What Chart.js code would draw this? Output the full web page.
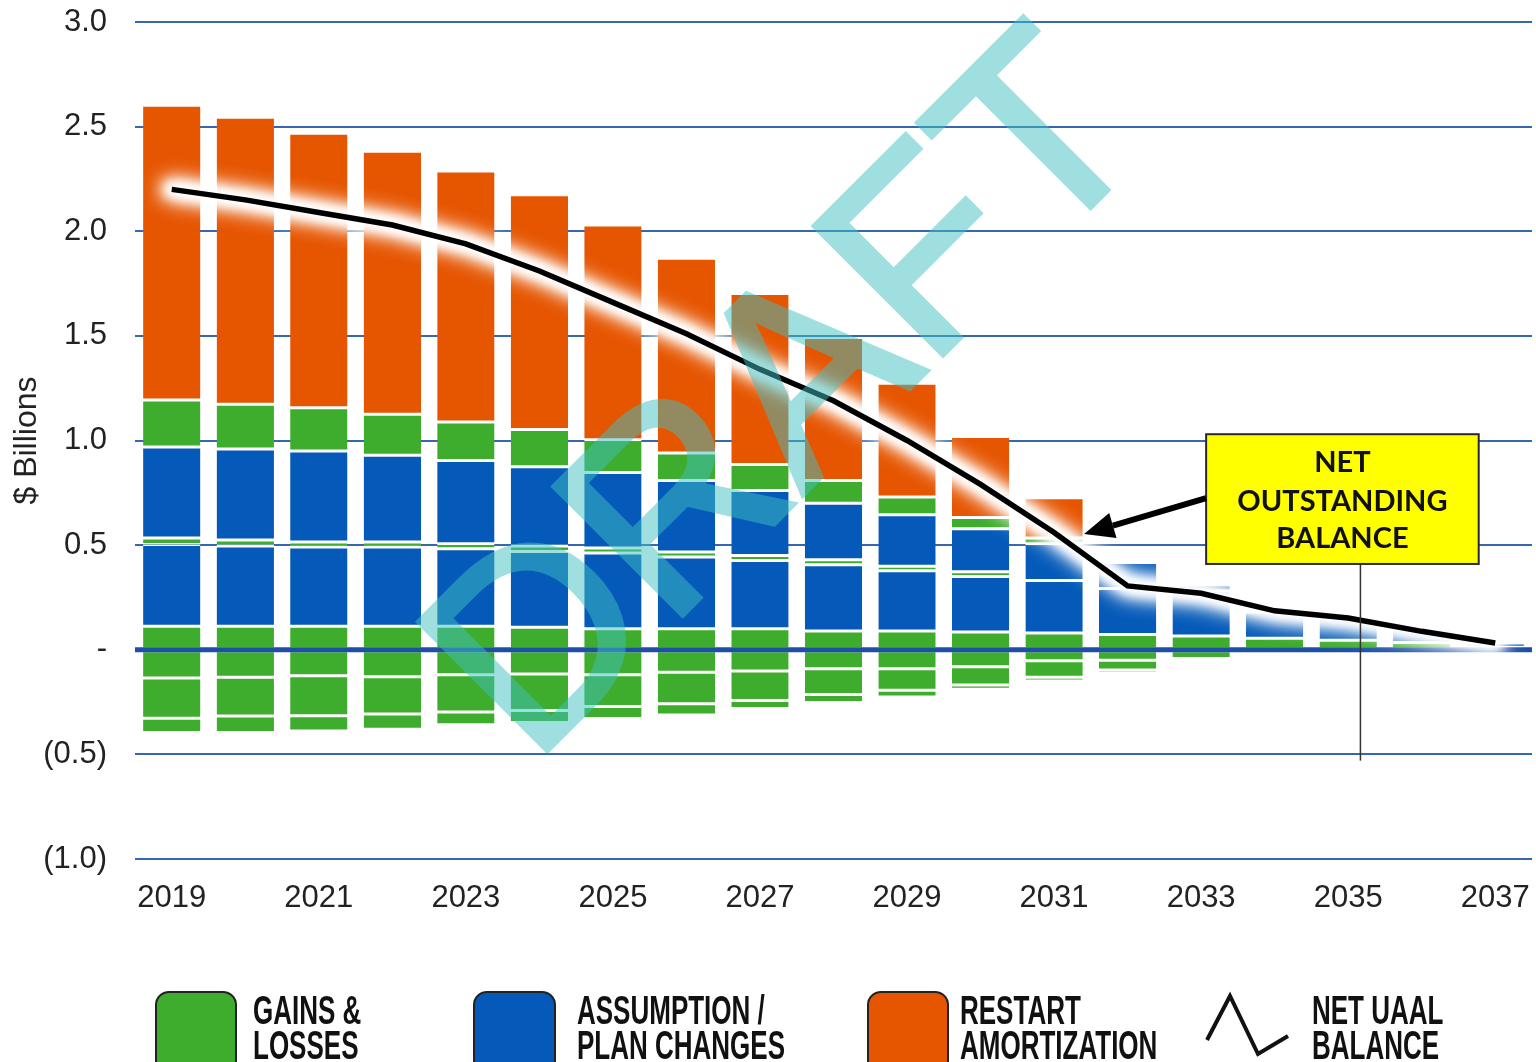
<!DOCTYPE html>
<html>
<head>
<meta charset="utf-8">
<script src="https://cdn.jsdelivr.net/npm/chart.js@4.4.1/dist/chart.umd.min.js"></script>
<style>
  body { margin: 0; background: #fff; overflow: hidden; }
  #wrap { position: relative; width: 1536px; height: 1062px; overflow: hidden; }
  .key { position: absolute; top: 991px; width: 82px; height: 84px; border: 2px solid #222; border-radius: 14px; box-sizing: border-box; }
  .keytext { position: absolute; top: 993px; font: bold 40px "Liberation Sans", Arial, sans-serif; line-height: 35px;
             color: #111; transform: scaleX(0.65); transform-origin: left top; white-space: nowrap; }
</style>
</head>
<body>
<div id="wrap">
  <canvas id="uaalChart" width="1536" height="1062"></canvas>

  <div class="key" style="left:155px; background:#3eac2c;"></div>
  <div class="keytext" style="left:253px;">GAINS &amp;<br>LOSSES</div>

  <div class="key" style="left:473px; width:83px; background:#055ab9;"></div>
  <div class="keytext" style="left:577px;">ASSUMPTION /<br>PLAN CHANGES</div>

  <div class="key" style="left:867px; background:#e65500;"></div>
  <div class="keytext" style="left:960px;">RESTART<br>AMORTIZATION</div>

  <svg style="position:absolute; left:1200px; top:990px;" width="100" height="72">
    <polyline points="7,50 30,6 58,64 88,46" fill="none" stroke="#111" stroke-width="4" stroke-linejoin="miter"/>
  </svg>
  <div class="keytext" style="left:1312px;">NET UAAL<br>BALANCE</div>
</div>

<script>
// values in $ billions
const years = ['2019', '2020', '2021', '2022', '2023', '2024', '2025', '2026', '2027', '2028',
               '2029', '2030', '2031', '2032', '2033', '2034', '2035', '2036', '2037'];

// positive layers, bottom to top
const gainsLow       = [0.112, 0.112, 0.112, 0.112, 0.112, 0.108, 0.100, 0.100, 0.100, 0.090, 0.090, 0.085, 0.080, 0.073, 0.066, 0.055, 0.045, 0.035, 0.012];
const assumptionLow  = [0.391, 0.384, 0.379, 0.379, 0.371, 0.362, 0.362, 0.343, 0.327, 0.316, 0.287, 0.265, 0.251, 0.220, 0.215, 0.125, 0.115, 0.065, 0.020];
const gainsMid       = [0.031, 0.028, 0.024, 0.024, 0.024, 0.026, 0.024, 0.024, 0.023, 0.024, 0.022, 0.023, 0, 0, 0, 0, 0, 0, 0];
const assumptionHigh = [0.435, 0.435, 0.435, 0.415, 0.397, 0.379, 0.361, 0.342, 0.311, 0.270, 0.246, 0.205, 0.175, 0.124, 0.030, 0, 0, 0, 0];
const gainsHigh      = [0.225, 0.214, 0.207, 0.195, 0.185, 0.177, 0.156, 0.131, 0.124, 0.109, 0.085, 0.054, 0.028, 0, 0, 0, 0, 0, 0];
const restart        = [1.408, 1.372, 1.311, 1.257, 1.199, 1.122, 1.027, 0.931, 0.817, 0.683, 0.544, 0.387, 0.193, 0, 0, 0, 0, 0, 0];

// negative layers, top to bottom
const lossesA = [-0.135, -0.131, -0.124, -0.129, -0.119, -0.116, -0.119, -0.107, -0.101, -0.091, -0.091, -0.081, -0.052, -0.050, -0.042, 0, 0, 0, 0];
const lossesB = [-0.192, -0.186, -0.191, -0.178, -0.179, -0.174, -0.152, -0.151, -0.141, -0.123, -0.103, -0.088, -0.079, -0.047, -0.014, 0, 0, 0, 0];
const lossesC = [-0.069, -0.079, -0.073, -0.073, -0.061, -0.058, -0.058, -0.054, -0.039, -0.038, -0.032, -0.020, -0.018, -0.015, 0, 0, 0, 0, 0];

const netBalance = [2.20, 2.15, 2.09, 2.03, 1.94, 1.81, 1.66, 1.51, 1.34, 1.19, 1.00, 0.79, 0.56, 0.305, 0.27, 0.186, 0.152, 0.088, 0.032];

const GREEN = '#3eac2c';
const BLUE = '#055ab9';
const ORANGE = '#e65500';

function layer(label, data, color) {
  return {
    type: 'bar',
    label: label,
    data: data,
    backgroundColor: color,
    borderColor: '#ffffff',
    borderWidth: { top: 1.5, bottom: 1.5, left: 0, right: 0 },
    borderSkipped: false,
    stack: 'uaal',
    order: 1
  };
}

// zero line + soft white glow drawn just under the balance line
const glowPlugin = {
  id: 'glow',
  beforeDatasetDraw(chart, args) {
    if (chart.data.datasets[args.index].type !== 'line') return;
    const ctx = chart.ctx;
    const area = chart.chartArea;
    const y0 = chart.scales.y.getPixelForValue(0);
    ctx.save();
    ctx.strokeStyle = '#1d4fa6';
    ctx.lineWidth = 5;
    ctx.beginPath();
    ctx.moveTo(area.left, y0);
    ctx.lineTo(area.right, y0);
    ctx.stroke();

    // stroke far off-canvas, keep only the blurred shadow
    const pts = args.meta.data;
    const shift = 5000;
    ctx.lineJoin = 'round';
    ctx.lineCap = 'round';
    ctx.strokeStyle = '#fff';
    ctx.shadowColor = '#fff';
    ctx.shadowOffsetX = shift * chart.currentDevicePixelRatio;
    [[24, 20], [16, 13], [10, 8]].forEach(p => {
      ctx.lineWidth = p[0];
      ctx.shadowBlur = p[1];
      ctx.beginPath();
      pts.forEach((pt, i) => i ? ctx.lineTo(pt.x - shift, pt.y) : ctx.moveTo(pt.x - shift, pt.y));
      ctx.stroke();
    });
    ctx.restore();
  }
};

// callout box, arrow and DRAFT stamp
const notePlugin = {
  id: 'note',
  afterDraw(chart) {
    const ctx = chart.ctx;
    const x = chart.scales.x, y = chart.scales.y;
    const left = x.getPixelForValue(14) + 5, right = x.getPixelForValue(17) + 57;
    const top = y.getPixelForValue(1.03), bottom = y.getPixelForValue(0.41);
    const cx = (left + right) / 2;

    ctx.save();
    // thin pointer line
    ctx.strokeStyle = '#333';
    ctx.lineWidth = 1.5;
    ctx.beginPath();
    ctx.moveTo(cx + 18, bottom - 16);
    ctx.lineTo(cx + 18, y.getPixelForValue(-0.53));
    ctx.stroke();

    ctx.fillStyle = '#ffff00';
    ctx.fillRect(left, top, right - left, bottom - top);
    ctx.strokeStyle = '#2a2a2a';
    ctx.lineWidth = 2;
    ctx.strokeRect(left, top, right - left, bottom - top);

    ctx.fillStyle = '#111';
    ctx.font = 'bold 29px Lato, "Open Sans", sans-serif';
    ctx.textAlign = 'center';
    ctx.textBaseline = 'middle';
    ctx.fillText('NET', cx, top + 28);
    ctx.fillText('OUTSTANDING', cx, top + 67);
    ctx.fillText('BALANCE', cx, top + 104);

    // arrow towards the line
    const tx = left, ty = top + 64;
    const hx = x.getPixelForValue(12) + 30, hy = y.getPixelForValue(0.553);
    const dx = hx - tx, dy = hy - ty, len = Math.hypot(dx, dy);
    const ux = dx / len, uy = dy / len;
    const bx = hx - ux * 30, by = hy - uy * 30;
    ctx.strokeStyle = '#000';
    ctx.lineWidth = 6;
    ctx.beginPath();
    ctx.moveTo(tx, ty);
    ctx.lineTo(bx, by);
    ctx.stroke();
    ctx.fillStyle = '#000';
    ctx.beginPath();
    ctx.moveTo(hx, hy);
    ctx.lineTo(bx - uy * 13, by + ux * 13);
    ctx.lineTo(bx + uy * 13, by - ux * 13);
    ctx.closePath();
    ctx.fill();
    ctx.restore();

    // watermark: opaque on a layer, then blended at half strength
    const layerCanvas = document.createElement('canvas');
    layerCanvas.width = chart.canvas.width;
    layerCanvas.height = chart.canvas.height;
    const lc = layerCanvas.getContext('2d');
    const r = chart.currentDevicePixelRatio;
    lc.scale(r, r);
    lc.translate(532, 766);
    lc.rotate(-Math.PI / 4);
    lc.font = '265px "Liberation Sans", Arial, sans-serif';
    lc.fillStyle = 'rgb(64, 192, 192)';
    lc.strokeStyle = 'rgb(64, 192, 192)';
    lc.lineWidth = 5;
    lc.fillText('DRAFT', 0, 0);
    lc.strokeText('DRAFT', 0, 0);
    ctx.save();
    ctx.setTransform(1, 0, 0, 1, 0, 0);
    ctx.globalAlpha = 0.5;
    ctx.drawImage(layerCanvas, 0, 0);
    ctx.restore();
  }
};

new Chart(document.getElementById('uaalChart'), {
  data: {
    labels: years,
    datasets: [
      layer('Gains & Losses', gainsLow, GREEN),
      layer('Assumption / Plan Changes', assumptionLow, BLUE),
      layer('Gains & Losses', gainsMid, GREEN),
      layer('Assumption / Plan Changes', assumptionHigh, BLUE),
      layer('Gains & Losses', gainsHigh, GREEN),
      layer('Restart Amortization', restart, ORANGE),
      layer('Gains & Losses', lossesA, GREEN),
      layer('Gains & Losses', lossesB, GREEN),
      layer('Gains & Losses', lossesC, GREEN),
      {
        type: 'line',
        label: 'Net UAAL Balance',
        data: netBalance,
        borderColor: '#000',
        borderWidth: 5.5,
        pointRadius: 0,
        tension: 0,
        order: 0
      }
    ]
  },
  options: {
    responsive: false,
    animation: false,
    layout: { padding: { top: 22, right: 4, bottom: 0, left: 0 } },
    datasets: { bar: { categoryPercentage: 1, barPercentage: 0.78 } },
    plugins: { legend: { display: false }, tooltip: { enabled: false } },
    scales: {
      x: {
        stacked: true,
        grid: { display: false },
        border: { display: false },
        afterFit: s => { s.height = 203; s.paddingLeft = 0; s.paddingRight = 0; },
        ticks: {
          autoSkip: false,
          maxRotation: 0,
          padding: 13,
          color: '#222',
          font: { family: '"Liberation Sans", Arial, sans-serif', size: 31 },
          callback: (v, i) => i % 2 === 0 ? years[i] : ''
        }
      },
      y: {
        stacked: true,
        min: -1,
        max: 3,
        afterFit: s => { s.width = 135; s.paddingTop = 0; s.paddingBottom = 0; },
        border: { display: false },
        grid: {
          drawTicks: false,
          lineWidth: 2,
          color: c => c.tick && c.tick.value === 0 ? 'rgba(0,0,0,0)' : '#3568b0'
        },
        ticks: {
          stepSize: 0.5,
          padding: 28,
          color: '#222',
          font: { family: '"Liberation Sans", Arial, sans-serif', size: 31 },
          callback: v => v === 0 ? '-' : v < 0 ? '(' + Math.abs(v).toFixed(1) + ')' : v.toFixed(1)
        },
        title: {
          display: true,
          text: '$ Billions',
          color: '#222',
          padding: { top: 8, bottom: 0 },
          font: { family: '"Liberation Sans Narrow", "Liberation Sans", Arial, sans-serif', size: 32 }
        }
      }
    }
  },
  plugins: [glowPlugin, notePlugin]
});
</script>
</body>
</html>
